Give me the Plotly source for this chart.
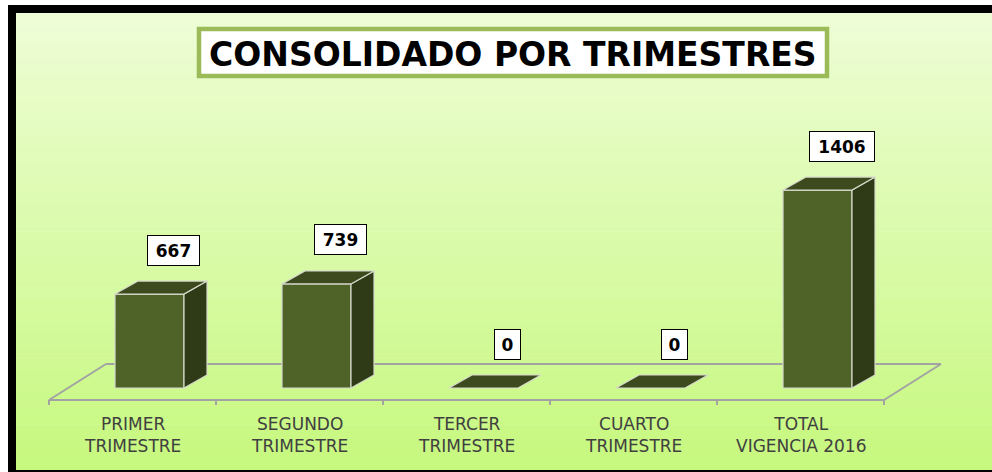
import plotly.graph_objects as go

# ---------------- data ----------------
categories = ["PRIMER TRIMESTRE", "SEGUNDO TRIMESTRE", "TERCER TRIMESTRE",
              "CUARTO TRIMESTRE", "TOTAL VIGENCIA 2016"]
values = [667, 739, 0, 0, 1406]
title_text = "CONSOLIDADO POR TRIMESTRES"

# ---------------- geometry / style constants (pixels) ----------------
W, H = 992, 472
PX_PER_CAT = 167.0          # horizontal pixels per category
CAT0_PX = 132.5             # pixel x of first category centre (floor front edge)
PX_PER_UNIT = 0.1408        # vertical pixels per value unit
BASE_PX = 388.0             # pixel y of value 0 (bar base, front)
PLOT_BOTTOM_PX = 412.0
FLOOR_FRONT_PX = 400.0
FLOOR_DEPTH_X, FLOOR_DEPTH_Y = 57.0, 36.0
BAR_SHIFT_PX = 17.0
BAR_HALF_PX = 34.5
BAR_DEPTH_X, BAR_DEPTH_Y = 23.0, 13.0

FRONT_C = "#4f6228"
SIDE_C = "#2f3a16"
TOP_C = "#3c4a1e"
EDGE_C = "#d6dacb"
FLOOR_C = "#a3a3a3"

def ux(px):  # pixel distance -> x units
    return px / PX_PER_CAT

def uy(px):  # pixel distance -> y units
    return px / PX_PER_UNIT

x_range = [(0 - CAT0_PX) / PX_PER_CAT, (W - CAT0_PX) / PX_PER_CAT]
y_range = [-uy(PLOT_BOTTOM_PX - BASE_PX), uy(BASE_PX)]

def px_paper_x(px):
    return px / W

def px_paper_y(py):
    return (PLOT_BOTTOM_PX - py) / PLOT_BOTTOM_PX

n = len(categories)
fig = go.Figure()

# ---------------- floor ----------------
yf = -uy(FLOOR_FRONT_PX - BASE_PX)
yb = yf + uy(FLOOR_DEPTH_Y)
dxf = ux(FLOOR_DEPTH_X)
xl, xr = -0.5, n - 0.5
fx, fy = [], []
for seg in [((xl, yf), (xl + dxf, yb)), ((xl + dxf, yb), (xr + dxf, yb)),
            ((xr + dxf, yb), (xr, yf)), ((xl, yf), (xr, yf))]:
    fx += [seg[0][0], seg[1][0], None]
    fy += [seg[0][1], seg[1][1], None]
for k in range(n + 1):
    xt = k - 0.5
    fx += [xt, xt, None]
    fy += [yf, yf - uy(5), None]
fig.add_trace(go.Scatter(x=fx, y=fy, mode="lines",
                         line=dict(color=FLOOR_C, width=2),
                         hoverinfo="skip", showlegend=False, cliponaxis=False))

# ---------------- 3D bars ----------------
dx, dy = ux(BAR_DEPTH_X), uy(BAR_DEPTH_Y)
front_x, front_y, side_x, side_y, top_x, top_y = [], [], [], [], [], []
for i, v in enumerate(values):
    c = i + ux(BAR_SHIFT_PX)
    x0, x1 = c - ux(BAR_HALF_PX), c + ux(BAR_HALF_PX)
    if v > 0:
        front_x += [x0, x1, x1, x0, x0, None]
        front_y += [0, 0, v, v, 0, None]
        side_x += [x1, x1 + dx, x1 + dx, x1, x1, None]
        side_y += [0, dy, v + dy, v, 0, None]
    top_x += [x0, x1, x1 + dx, x0 + dx, x0, None]
    top_y += [v, v, v + dy, v + dy, v, None]

for xs, ys, col in [(front_x, front_y, FRONT_C), (side_x, side_y, SIDE_C),
                    (top_x, top_y, TOP_C)]:
    fig.add_trace(go.Scatter(x=xs, y=ys, mode="lines", fill="toself",
                             fillcolor=col, line=dict(color=EDGE_C, width=1.2),
                             hoverinfo="skip", showlegend=False))

# ---------------- value labels ----------------
for i, v in enumerate(values):
    t = str(v)
    fig.add_annotation(x=i + ux(BAR_SHIFT_PX), y=v, xref="x", yref="y",
                       text=t, showarrow=False, xshift=24, yshift=44,
                       font=dict(family="DejaVu Sans", size=17, color="black",
                                 weight="bold"),
                       bgcolor="white", bordercolor="black", borderwidth=1,
                       borderpad=5, width=13 * len(t) + 2, height=19,
                       xanchor="center", yanchor="middle")

# ---------------- category labels ----------------
for i, cat in enumerate(categories):
    first, rest = cat.split(" ", 1)
    fig.add_annotation(x=i, y=yf, xref="x", yref="y", text=first + "<br>" + rest,
                       showarrow=False, yshift=-12, xanchor="center", yanchor="top",
                       align="center",
                       font=dict(family="DejaVu Sans", size=17, color="#404040"))

# ---------------- background / frame / title ----------------
shapes = []
top_rgb, bot_rgb = (238, 253, 214), (198, 248, 126)
g_top, g_bot, g_left = 13.0, 470.0, 16.0
N = 90
for s in range(N):
    t0 = s / N
    t1 = (s + 1) / N
    tm = (t0 + t1) / 2
    col = tuple(round(top_rgb[j] + (bot_rgb[j] - top_rgb[j]) * tm) for j in range(3))
    shapes.append(dict(type="rect", xref="paper", yref="paper", layer="below",
                       x0=px_paper_x(g_left), x1=px_paper_x(W + 5),
                       y0=px_paper_y(g_top + (g_bot - g_top) * t1 + 0.5),
                       y1=px_paper_y(g_top + (g_bot - g_top) * t0),
                       fillcolor="rgb(%d,%d,%d)" % col, line=dict(width=0)))
shapes.append(dict(type="rect", xref="paper", yref="paper", layer="below",
                   x0=px_paper_x(12), x1=px_paper_x(W + 20),
                   y0=px_paper_y(474), y1=px_paper_y(9),
                   fillcolor="rgba(0,0,0,0)", line=dict(color="black", width=8)))
shapes.append(dict(type="rect", xref="paper", yref="paper", layer="below",
                   x0=px_paper_x(199), x1=px_paper_x(827),
                   y0=px_paper_y(76), y1=px_paper_y(29),
                   fillcolor="white", line=dict(color="#9bbb59", width=4.5)))

fig.add_annotation(x=px_paper_x(513), y=px_paper_y(54), xref="paper", yref="paper",
                   text=title_text, showarrow=False, xanchor="center", yanchor="middle",
                   font=dict(family="DejaVu Sans", size=33, color="black",
                             weight="bold"))

fig.update_layout(
    width=W, height=H,
    margin=dict(l=0, r=0, t=0, b=H - PLOT_BOTTOM_PX, pad=0),
    paper_bgcolor="white", plot_bgcolor="rgba(0,0,0,0)",
    shapes=shapes, showlegend=False,
    xaxis=dict(range=x_range, visible=False, fixedrange=True),
    yaxis=dict(range=y_range, visible=False, fixedrange=True),
)

fig.write_html("out.html", config={"displayModeBar": False},
               post_script="document.body.style.margin='0';"
                           "document.body.style.overflow='hidden';")
